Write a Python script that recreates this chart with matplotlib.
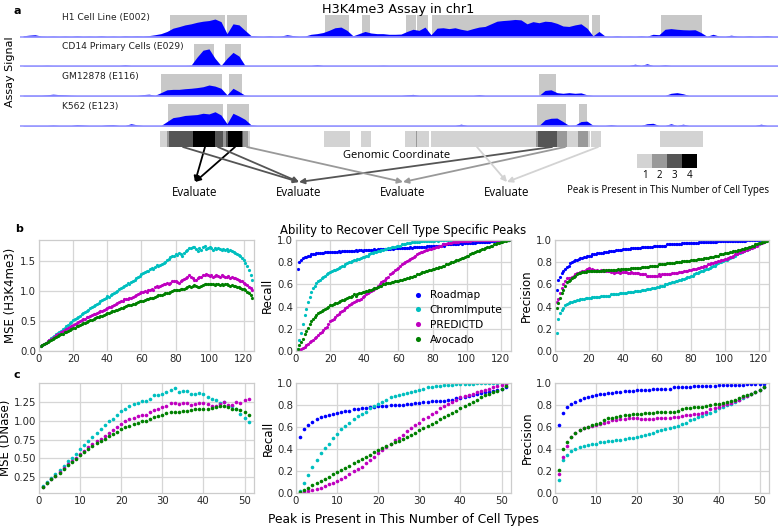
import numpy as np
import matplotlib
matplotlib.use('Agg')
import matplotlib.pyplot as plt
from matplotlib.patches import Rectangle, FancyArrowPatch

# ---------------- panel a data (genomic position = bin index * 6) ----------------
h1_signal = [0.05, 0.08, 0.10, 0.04, 0.03, 0.04, 0.03, 0.04, 0.03, 0.05,
             0.03, 0.04, 0.03, 0.05, 0.03, 0.04, 0.03, 0.05, 0.04, 0.05,
             0.04, 0.06, 0.10, 0.15, 0.25, 0.40, 0.47, 0.55, 0.60, 0.67,
             0.72, 0.75, 0.82, 0.70, 0.15, 0.60, 0.55, 0.30, 0.06, 0.04,
             0.03, 0.05, 0.03, 0.04, 0.10, 0.06, 0.03, 0.04, 0.12, 0.15,
             0.20, 0.30, 0.42, 0.45, 0.30, 0.05, 0.15, 0.25, 0.18, 0.15,
             0.15, 0.12, 0.12, 0.13, 0.25, 0.35, 0.30, 0.45, 0.10, 0.40,
             0.42, 0.38, 0.42, 0.35, 0.30, 0.38, 0.45, 0.48, 0.60, 0.72,
             0.75, 0.77, 0.80, 0.78, 0.60, 0.70, 0.65, 0.72, 0.70, 0.62,
             0.50, 0.48, 0.55, 0.60, 0.40, 0.05, 0.25, 0.04, 0.03, 0.05,
             0.03, 0.04, 0.03, 0.05, 0.03, 0.12, 0.10, 0.35, 0.38, 0.35,
             0.33, 0.32, 0.33, 0.20, 0.03, 0.12, 0.04, 0.03, 0.08, 0.04,
             0.03, 0.05, 0.03, 0.04, 0.06, 0.03, 0.03]
cd14_signal = [0.02, 0.02, 0.02, 0.02, 0.03, 0.02, 0.02, 0.02, 0.02, 0.02,
               0.02, 0.02, 0.02, 0.02, 0.02, 0.02, 0.02, 0.05, 0.02, 0.02,
               0.02, 0.02, 0.02, 0.02, 0.02, 0.02, 0.02, 0.02, 0.03, 0.40,
               0.72, 0.78, 0.35, 0.02, 0.35, 0.62, 0.45, 0.02, 0.02, 0.02,
               0.02, 0.02, 0.02, 0.02, 0.02, 0.02, 0.02, 0.02, 0.02, 0.06,
               0.02, 0.02, 0.02, 0.02, 0.02, 0.02, 0.02, 0.02, 0.02, 0.02,
               0.03, 0.02, 0.02, 0.02, 0.02, 0.02, 0.02, 0.02, 0.02, 0.02,
               0.02, 0.02, 0.02, 0.02, 0.02, 0.02, 0.02, 0.02, 0.02, 0.02,
               0.02, 0.02, 0.02, 0.02, 0.02, 0.02, 0.02, 0.02, 0.02, 0.02,
               0.02, 0.02, 0.02, 0.02, 0.02, 0.02, 0.02, 0.02, 0.02, 0.02,
               0.02, 0.02, 0.08, 0.02, 0.10, 0.02, 0.02, 0.05, 0.02, 0.02,
               0.02, 0.02, 0.02, 0.02, 0.02, 0.02, 0.02, 0.02, 0.02, 0.02,
               0.02, 0.02, 0.02, 0.02, 0.02, 0.02, 0.02]
gm_signal = [0.03, 0.03, 0.03, 0.03, 0.05, 0.08, 0.06, 0.05, 0.03, 0.02,
             0.02, 0.02, 0.02, 0.02, 0.02, 0.02, 0.02, 0.02, 0.02, 0.02,
             0.06, 0.08, 0.03, 0.15, 0.28, 0.30, 0.30, 0.33, 0.35, 0.38,
             0.42, 0.50, 0.45, 0.35, 0.05, 0.35, 0.20, 0.03, 0.02, 0.02,
             0.02, 0.02, 0.02, 0.02, 0.02, 0.02, 0.02, 0.02, 0.02, 0.02,
             0.02, 0.02, 0.02, 0.02, 0.02, 0.02, 0.02, 0.02, 0.02, 0.02,
             0.02, 0.02, 0.02, 0.02, 0.05, 0.07, 0.02, 0.02, 0.02, 0.02,
             0.02, 0.02, 0.02, 0.02, 0.02, 0.02, 0.06, 0.02, 0.02, 0.02,
             0.02, 0.02, 0.02, 0.02, 0.02, 0.02, 0.02, 0.25, 0.28, 0.15,
             0.12, 0.15, 0.12, 0.14, 0.05, 0.02, 0.02, 0.02, 0.02, 0.02,
             0.02, 0.02, 0.02, 0.02, 0.02, 0.02, 0.02, 0.02, 0.12, 0.15,
             0.10, 0.02, 0.02, 0.02, 0.02, 0.02, 0.02, 0.02, 0.02, 0.02,
             0.02, 0.02, 0.02, 0.02, 0.02, 0.02, 0.02]
k562_signal = [0.02, 0.02, 0.02, 0.02, 0.02, 0.04, 0.02, 0.02, 0.02, 0.06,
               0.04, 0.02, 0.02, 0.02, 0.05, 0.06, 0.02, 0.02, 0.10, 0.05,
               0.02, 0.02, 0.02, 0.02, 0.20, 0.38, 0.42, 0.48, 0.50, 0.52,
               0.58, 0.55, 0.65, 0.50, 0.10, 0.58, 0.45, 0.30, 0.05, 0.02,
               0.02, 0.02, 0.02, 0.02, 0.02, 0.02, 0.02, 0.02, 0.02, 0.02,
               0.02, 0.02, 0.02, 0.02, 0.02, 0.02, 0.02, 0.02, 0.02, 0.02,
               0.02, 0.02, 0.02, 0.02, 0.02, 0.02, 0.02, 0.02, 0.02, 0.02,
               0.02, 0.02, 0.02, 0.08, 0.02, 0.02, 0.02, 0.02, 0.02, 0.02,
               0.02, 0.02, 0.02, 0.02, 0.02, 0.02, 0.02, 0.28, 0.35, 0.36,
               0.20, 0.02, 0.04, 0.20, 0.22, 0.03, 0.02, 0.02, 0.06, 0.02,
               0.02, 0.02, 0.02, 0.02, 0.10, 0.12, 0.02, 0.02, 0.10, 0.02,
               0.08, 0.02, 0.02, 0.02, 0.02, 0.02, 0.02, 0.02, 0.02, 0.02,
               0.02, 0.02, 0.02, 0.08, 0.02, 0.02, 0.02]

h1_peaks = [(150, 205), (207, 227), (305, 329), (342, 350), (386, 396),
            (397, 408), (412, 569), (572, 580), (641, 682)]
cd14_peaks = [(174, 194), (205, 221)]
gm_peaks = [(141, 202), (209, 222), (519, 536)]
k562_peaks = [(148, 203), (207, 229), (517, 546), (559, 567)]

track_names = ["H1 Cell Line (E002)", "CD14 Primary Cells (E029)",
               "GM12878 (E116)", "K562 (E123)"]

# arrows: (number of cell types, genomic position of the source region)
arrow_sources = [(4, 185), (4, 215), (3, 163), (3, 198), (3, 532),
                 (2, 227), (2, 545), (1, 457), (1, 578)]

# ---------------- panel b data ----------------
b_mse_cyan = [0.08, 0.10, 0.12, 0.14, 0.16, 0.18, 0.21, 0.23, 0.25, 0.28,
              0.30, 0.32, 0.34, 0.37, 0.39, 0.41, 0.44, 0.46, 0.48, 0.51,
              0.53, 0.55, 0.57, 0.59, 0.61, 0.63, 0.65, 0.67, 0.69, 0.71,
              0.73, 0.75, 0.77, 0.79, 0.80, 0.83, 0.85, 0.87, 0.88, 0.92,
              0.90, 0.93, 0.95, 0.97, 0.98, 1.00, 1.03, 1.05, 1.07, 1.09,
              1.10, 1.13, 1.12, 1.15, 1.17, 1.18, 1.22, 1.23, 1.25, 1.29,
              1.30, 1.31, 1.33, 1.34, 1.36, 1.38, 1.37, 1.40, 1.43, 1.41,
              1.44, 1.45, 1.47, 1.49, 1.51, 1.54, 1.56, 1.58, 1.59, 1.61,
              1.60, 1.63, 1.62, 1.58, 1.64, 1.66, 1.68, 1.72, 1.71, 1.74,
              1.73, 1.70, 1.67, 1.72, 1.68, 1.74, 1.75, 1.70, 1.72, 1.74,
              1.71, 1.69, 1.71, 1.70, 1.72, 1.70, 1.68, 1.70, 1.69, 1.70,
              1.67, 1.68, 1.66, 1.65, 1.64, 1.62, 1.60, 1.58, 1.55, 1.51,
              1.47, 1.42, 1.35, 1.27, 1.18]
b_mse_magenta = [0.08, 0.10, 0.12, 0.14, 0.16, 0.18, 0.20, 0.22, 0.24, 0.26,
                 0.28, 0.29, 0.31, 0.33, 0.35, 0.36, 0.38, 0.40, 0.42, 0.43,
                 0.45, 0.46, 0.48, 0.50, 0.51, 0.53, 0.54, 0.56, 0.57, 0.58,
                 0.60, 0.61, 0.62, 0.64, 0.65, 0.66, 0.67, 0.69, 0.70, 0.72,
                 0.73, 0.74, 0.75, 0.77, 0.78, 0.80, 0.82, 0.83, 0.84, 0.86,
                 0.87, 0.87, 0.88, 0.89, 0.90, 0.92, 0.93, 0.95, 0.96, 0.98,
                 0.99, 1.00, 0.98, 1.01, 1.02, 1.03, 1.02, 1.06, 1.08, 1.07,
                 1.09, 1.10, 1.11, 1.12, 1.13, 1.12, 1.14, 1.16, 1.17, 1.16,
                 1.15, 1.14, 1.17, 1.19, 1.20, 1.22, 1.24, 1.26, 1.24, 1.21,
                 1.19, 1.18, 1.21, 1.23, 1.24, 1.26, 1.27, 1.28, 1.26, 1.25,
                 1.26, 1.24, 1.25, 1.26, 1.25, 1.24, 1.26, 1.25, 1.23, 1.24,
                 1.25, 1.22, 1.23, 1.21, 1.22, 1.20, 1.19, 1.17, 1.16, 1.14,
                 1.12, 1.10, 1.07, 1.05, 1.02]
b_mse_green = [0.08, 0.10, 0.12, 0.13, 0.15, 0.17, 0.18, 0.20, 0.22, 0.23,
               0.25, 0.26, 0.28, 0.29, 0.31, 0.32, 0.34, 0.35, 0.37, 0.38,
               0.39, 0.41, 0.42, 0.43, 0.45, 0.46, 0.47, 0.48, 0.50, 0.51,
               0.52, 0.53, 0.55, 0.56, 0.57, 0.58, 0.59, 0.60, 0.62, 0.63,
               0.64, 0.65, 0.66, 0.67, 0.68, 0.69, 0.70, 0.71, 0.72, 0.74,
               0.75, 0.76, 0.77, 0.77, 0.78, 0.79, 0.80, 0.82, 0.83, 0.84,
               0.84, 0.85, 0.86, 0.87, 0.88, 0.88, 0.89, 0.90, 0.92, 0.93,
               0.93, 0.94, 0.95, 0.96, 0.97, 0.97, 0.98, 1.00, 1.01, 1.02,
               1.02, 1.01, 1.03, 1.04, 1.03, 1.05, 1.06, 1.08, 1.07, 1.09,
               1.10, 1.08, 1.06, 1.07, 1.09, 1.10, 1.11, 1.12, 1.11, 1.12,
               1.11, 1.12, 1.10, 1.11, 1.12, 1.10, 1.11, 1.10, 1.12, 1.11,
               1.10, 1.09, 1.10, 1.08, 1.09, 1.07, 1.06, 1.05, 1.04, 1.03,
               1.01, 0.99, 0.96, 0.93, 0.88]

b_rec_blue = [0.74, 0.80, 0.82, 0.84, 0.85, 0.85, 0.86, 0.86, 0.87, 0.87,
              0.87, 0.88, 0.88, 0.88, 0.88, 0.88, 0.89, 0.89, 0.89, 0.89,
              0.89, 0.89, 0.89, 0.89, 0.90, 0.89, 0.90, 0.90, 0.90, 0.90,
              0.90, 0.90, 0.90, 0.90, 0.91, 0.90, 0.91, 0.91, 0.90, 0.91,
              0.91, 0.91, 0.91, 0.91, 0.91, 0.92, 0.91, 0.92, 0.92, 0.92,
              0.92, 0.92, 0.92, 0.92, 0.92, 0.93, 0.92, 0.93, 0.93, 0.93,
              0.93, 0.93, 0.93, 0.93, 0.93, 0.93, 0.94, 0.93, 0.94, 0.94,
              0.94, 0.94, 0.94, 0.94, 0.94, 0.94, 0.95, 0.95, 0.95, 0.95,
              0.95, 0.95, 0.95, 0.95, 0.95, 0.96, 0.95, 0.96, 0.96, 0.96,
              0.96, 0.96, 0.96, 0.96, 0.96, 0.97, 0.96, 0.97, 0.97, 0.97,
              0.97, 0.97, 0.97, 0.97, 0.97, 0.98, 0.98, 0.98, 0.98, 0.98,
              0.98, 0.98, 0.98, 0.99, 0.99, 0.99, 0.99, 0.99, 0.99, 0.99,
              0.99, 1.00, 1.00, 1.00, 1.00]
b_rec_cyan = [0.02, 0.10, 0.16, 0.24, 0.32, 0.38, 0.44, 0.49, 0.53, 0.57,
              0.59, 0.61, 0.63, 0.64, 0.66, 0.67, 0.68, 0.69, 0.70, 0.71,
              0.72, 0.73, 0.73, 0.74, 0.75, 0.76, 0.77, 0.77, 0.78, 0.79,
              0.80, 0.80, 0.81, 0.82, 0.82, 0.83, 0.83, 0.84, 0.85, 0.85,
              0.86, 0.86, 0.87, 0.88, 0.88, 0.89, 0.89, 0.90, 0.90, 0.91,
              0.91, 0.92, 0.92, 0.93, 0.93, 0.94, 0.94, 0.94, 0.95, 0.95,
              0.95, 0.96, 0.96, 0.96, 0.97, 0.97, 0.97, 0.98, 0.98, 0.98,
              0.98, 0.98, 0.99, 0.99, 0.99, 0.99, 0.99, 0.99, 0.99, 0.99,
              0.99, 1.00, 0.99, 1.00, 1.00, 1.00, 1.00, 1.00, 1.00, 1.00,
              1.00, 1.00, 1.00, 1.00, 1.00, 1.00, 1.00, 1.00, 1.00, 1.00,
              1.00, 1.00, 1.00, 1.00, 1.00, 1.00, 1.00, 1.00, 1.00, 1.00,
              1.00, 1.00, 1.00, 1.00, 1.00, 1.00, 1.00, 1.00, 1.00, 1.00,
              1.00, 1.00, 1.00, 1.00, 1.00]
b_rec_magenta = [0.00, 0.01, 0.02, 0.03, 0.04, 0.05, 0.06, 0.08, 0.09, 0.10,
                 0.12, 0.13, 0.14, 0.16, 0.17, 0.19, 0.21, 0.22, 0.24, 0.27,
                 0.28, 0.29, 0.31, 0.32, 0.33, 0.35, 0.36, 0.37, 0.39, 0.40,
                 0.41, 0.42, 0.43, 0.44, 0.45, 0.46, 0.46, 0.47, 0.49, 0.50,
                 0.51, 0.52, 0.53, 0.54, 0.55, 0.56, 0.57, 0.59, 0.60, 0.62,
                 0.63, 0.64, 0.66, 0.67, 0.69, 0.70, 0.71, 0.73, 0.74, 0.75,
                 0.77, 0.78, 0.79, 0.80, 0.81, 0.82, 0.83, 0.84, 0.85, 0.86,
                 0.87, 0.88, 0.89, 0.89, 0.90, 0.91, 0.91, 0.92, 0.92, 0.93,
                 0.93, 0.94, 0.94, 0.95, 0.95, 0.96, 0.96, 0.96, 0.97, 0.97,
                 0.97, 0.98, 0.98, 0.98, 0.98, 0.99, 0.99, 0.99, 0.99, 0.99,
                 0.99, 0.99, 1.00, 1.00, 1.00, 1.00, 1.00, 1.00, 1.00, 1.00,
                 1.00, 1.00, 1.00, 1.00, 1.00, 1.00, 1.00, 1.00, 1.00, 1.00,
                 1.00, 1.00, 1.00, 1.00, 1.00]
b_rec_green = [0.02, 0.05, 0.08, 0.11, 0.15, 0.18, 0.21, 0.24, 0.27, 0.29,
               0.31, 0.32, 0.34, 0.35, 0.36, 0.37, 0.38, 0.39, 0.40, 0.41,
               0.41, 0.42, 0.43, 0.43, 0.44, 0.45, 0.46, 0.46, 0.47, 0.48,
               0.49, 0.49, 0.50, 0.51, 0.50, 0.51, 0.52, 0.52, 0.53, 0.53,
               0.54, 0.54, 0.55, 0.55, 0.56, 0.57, 0.57, 0.58, 0.59, 0.59,
               0.60, 0.60, 0.61, 0.61, 0.61, 0.62, 0.62, 0.63, 0.63, 0.63,
               0.64, 0.64, 0.65, 0.65, 0.66, 0.66, 0.67, 0.67, 0.68, 0.68,
               0.69, 0.69, 0.70, 0.71, 0.71, 0.72, 0.72, 0.73, 0.73, 0.74,
               0.74, 0.75, 0.75, 0.76, 0.76, 0.77, 0.77, 0.78, 0.78, 0.79,
               0.80, 0.80, 0.81, 0.82, 0.82, 0.83, 0.84, 0.84, 0.85, 0.86,
               0.86, 0.87, 0.88, 0.88, 0.89, 0.90, 0.90, 0.91, 0.92, 0.92,
               0.93, 0.94, 0.94, 0.95, 0.95, 0.96, 0.96, 0.97, 0.97, 0.98,
               0.98, 0.99, 0.99, 1.00, 1.00]

b_prec_blue = [0.55, 0.64, 0.67, 0.70, 0.72, 0.74, 0.76, 0.77, 0.79, 0.80,
               0.81, 0.82, 0.82, 0.83, 0.84, 0.84, 0.85, 0.85, 0.86, 0.86,
               0.86, 0.87, 0.87, 0.87, 0.88, 0.88, 0.88, 0.88, 0.89, 0.89,
               0.89, 0.90, 0.90, 0.90, 0.90, 0.91, 0.91, 0.91, 0.91, 0.92,
               0.92, 0.92, 0.92, 0.92, 0.93, 0.93, 0.93, 0.93, 0.93, 0.93,
               0.94, 0.94, 0.94, 0.94, 0.94, 0.94, 0.94, 0.95, 0.95, 0.95,
               0.95, 0.95, 0.95, 0.95, 0.95, 0.96, 0.96, 0.96, 0.96, 0.96,
               0.96, 0.96, 0.96, 0.96, 0.97, 0.97, 0.97, 0.97, 0.97, 0.97,
               0.97, 0.97, 0.97, 0.97, 0.98, 0.98, 0.98, 0.98, 0.98, 0.98,
               0.98, 0.98, 0.98, 0.98, 0.98, 0.99, 0.99, 0.99, 0.99, 0.99,
               0.99, 0.99, 0.99, 0.99, 0.99, 0.99, 0.99, 0.99, 0.99, 0.99,
               0.99, 0.99, 1.00, 1.00, 1.00, 1.00, 1.00, 1.00, 1.00, 1.00,
               1.00, 1.00, 1.00, 1.00, 1.00]
b_prec_cyan = [0.16, 0.29, 0.34, 0.37, 0.39, 0.41, 0.42, 0.43, 0.44, 0.44,
               0.45, 0.45, 0.46, 0.46, 0.47, 0.47, 0.47, 0.48, 0.48, 0.48,
               0.48, 0.49, 0.49, 0.49, 0.49, 0.49, 0.50, 0.50, 0.50, 0.50,
               0.50, 0.50, 0.51, 0.51, 0.51, 0.51, 0.51, 0.52, 0.52, 0.52,
               0.52, 0.52, 0.53, 0.53, 0.53, 0.53, 0.54, 0.54, 0.54, 0.54,
               0.55, 0.55, 0.55, 0.56, 0.56, 0.56, 0.57, 0.57, 0.57, 0.58,
               0.58, 0.59, 0.59, 0.59, 0.60, 0.60, 0.61, 0.61, 0.62, 0.62,
               0.63, 0.63, 0.64, 0.64, 0.65, 0.65, 0.66, 0.67, 0.67, 0.68,
               0.68, 0.69, 0.70, 0.70, 0.71, 0.72, 0.72, 0.73, 0.74, 0.74,
               0.75, 0.76, 0.77, 0.77, 0.78, 0.79, 0.80, 0.80, 0.81, 0.82,
               0.82, 0.83, 0.84, 0.85, 0.85, 0.86, 0.87, 0.88, 0.88, 0.89,
               0.90, 0.91, 0.91, 0.92, 0.93, 0.94, 0.94, 0.95, 0.96, 0.96,
               0.97, 0.98, 0.98, 0.99, 1.00]
b_prec_magenta = [0.44, 0.47, 0.52, 0.57, 0.60, 0.63, 0.66, 0.66, 0.66, 0.67,
                  0.68, 0.69, 0.70, 0.70, 0.71, 0.72, 0.72, 0.73, 0.74, 0.75,
                  0.73, 0.74, 0.73, 0.72, 0.73, 0.72, 0.73, 0.72, 0.73, 0.72,
                  0.72, 0.72, 0.71, 0.71, 0.70, 0.71, 0.71, 0.70, 0.71, 0.71,
                  0.71, 0.71, 0.70, 0.70, 0.71, 0.70, 0.70, 0.70, 0.70, 0.69,
                  0.69, 0.69, 0.69, 0.68, 0.68, 0.68, 0.68, 0.68, 0.68, 0.68,
                  0.69, 0.68, 0.69, 0.69, 0.69, 0.69, 0.69, 0.69, 0.70, 0.70,
                  0.70, 0.70, 0.71, 0.71, 0.71, 0.72, 0.72, 0.72, 0.73, 0.73,
                  0.74, 0.74, 0.74, 0.75, 0.75, 0.76, 0.76, 0.77, 0.77, 0.78,
                  0.78, 0.79, 0.79, 0.80, 0.80, 0.81, 0.81, 0.82, 0.82, 0.83,
                  0.83, 0.84, 0.85, 0.85, 0.86, 0.87, 0.87, 0.88, 0.89, 0.89,
                  0.90, 0.91, 0.91, 0.92, 0.93, 0.93, 0.94, 0.95, 0.95, 0.96,
                  0.97, 0.97, 0.98, 0.99, 1.00]
b_prec_green = [0.39, 0.43, 0.48, 0.52, 0.55, 0.59, 0.62, 0.63, 0.64, 0.66,
                0.67, 0.68, 0.69, 0.70, 0.70, 0.71, 0.71, 0.71, 0.72, 0.72,
                0.72, 0.72, 0.72, 0.72, 0.72, 0.72, 0.72, 0.73, 0.72, 0.73,
                0.73, 0.73, 0.73, 0.73, 0.73, 0.73, 0.74, 0.73, 0.74, 0.74,
                0.74, 0.74, 0.74, 0.74, 0.75, 0.75, 0.75, 0.75, 0.75, 0.75,
                0.76, 0.76, 0.76, 0.76, 0.76, 0.77, 0.77, 0.77, 0.77, 0.77,
                0.78, 0.78, 0.78, 0.78, 0.78, 0.79, 0.79, 0.79, 0.79, 0.79,
                0.80, 0.80, 0.80, 0.80, 0.81, 0.81, 0.81, 0.81, 0.81, 0.82,
                0.82, 0.82, 0.82, 0.83, 0.83, 0.83, 0.83, 0.84, 0.84, 0.84,
                0.85, 0.85, 0.85, 0.86, 0.86, 0.86, 0.87, 0.87, 0.87, 0.88,
                0.88, 0.88, 0.89, 0.89, 0.90, 0.90, 0.90, 0.91, 0.91, 0.92,
                0.92, 0.93, 0.93, 0.94, 0.94, 0.95, 0.95, 0.96, 0.96, 0.97,
                0.97, 0.98, 0.98, 0.99, 0.99]

# ---------------- panel c data ----------------
c_mse_cyan = [0.13, 0.18, 0.24, 0.29, 0.35, 0.40, 0.46, 0.50, 0.56, 0.62,
              0.68, 0.73, 0.78, 0.83, 0.89, 0.94, 0.99, 1.02, 1.07, 1.13,
              1.16, 1.19, 1.22, 1.24, 1.26, 1.26, 1.29, 1.34, 1.34, 1.36,
              1.38, 1.41, 1.43, 1.38, 1.40, 1.39, 1.36, 1.35, 1.37, 1.35,
              1.32, 1.29, 1.27, 1.24, 1.25, 1.20, 1.19, 1.16, 1.09, 1.03,
              0.98]
c_mse_magenta = [0.12, 0.17, 0.22, 0.27, 0.32, 0.37, 0.42, 0.46, 0.50, 0.56,
                 0.60, 0.65, 0.69, 0.73, 0.76, 0.80, 0.84, 0.88, 0.91, 0.96,
                 0.99, 1.02, 1.04, 1.06, 1.08, 1.08, 1.11, 1.14, 1.16, 1.18,
                 1.20, 1.24, 1.24, 1.22, 1.23, 1.23, 1.21, 1.22, 1.24, 1.23,
                 1.22, 1.19, 1.20, 1.22, 1.25, 1.21, 1.21, 1.25, 1.23, 1.28,
                 1.29]
c_mse_green = [0.12, 0.17, 0.22, 0.26, 0.31, 0.36, 0.41, 0.45, 0.49, 0.54,
               0.58, 0.62, 0.66, 0.70, 0.73, 0.76, 0.79, 0.82, 0.85, 0.89,
               0.91, 0.93, 0.95, 0.97, 0.99, 1.00, 1.02, 1.05, 1.06, 1.08,
               1.10, 1.12, 1.12, 1.12, 1.13, 1.13, 1.14, 1.15, 1.16, 1.16,
               1.16, 1.17, 1.18, 1.19, 1.19, 1.18, 1.16, 1.15, 1.14, 1.11,
               1.07]

c_rec_blue = [0.51, 0.58, 0.62, 0.65, 0.67, 0.69, 0.70, 0.71, 0.72, 0.73,
              0.74, 0.75, 0.75, 0.76, 0.76, 0.77, 0.77, 0.78, 0.78, 0.79,
              0.79, 0.79, 0.80, 0.80, 0.80, 0.80, 0.81, 0.81, 0.82, 0.82,
              0.83, 0.83, 0.84, 0.84, 0.84, 0.84, 0.85, 0.85, 0.86, 0.86,
              0.87, 0.88, 0.89, 0.90, 0.91, 0.92, 0.92, 0.93, 0.94, 0.95,
              0.96]
c_rec_cyan = [0.02, 0.09, 0.16, 0.24, 0.30, 0.36, 0.41, 0.45, 0.50, 0.54,
              0.58, 0.61, 0.64, 0.67, 0.70, 0.72, 0.74, 0.77, 0.79, 0.81,
              0.83, 0.85, 0.87, 0.88, 0.89, 0.90, 0.91, 0.92, 0.93, 0.94,
              0.95, 0.96, 0.96, 0.97, 0.97, 0.98, 0.98, 0.98, 0.99, 0.99,
              0.99, 0.99, 0.99, 1.00, 1.00, 1.00, 1.00, 1.00, 1.00, 1.00,
              1.00]
c_rec_magenta = [0.00, 0.01, 0.02, 0.03, 0.04, 0.05, 0.06, 0.08, 0.09, 0.11,
                 0.13, 0.15, 0.17, 0.20, 0.22, 0.24, 0.27, 0.30, 0.33, 0.36,
                 0.39, 0.42, 0.45, 0.48, 0.50, 0.53, 0.56, 0.59, 0.62, 0.64,
                 0.67, 0.69, 0.72, 0.74, 0.77, 0.79, 0.81, 0.83, 0.85, 0.87,
                 0.88, 0.89, 0.90, 0.92, 0.93, 0.94, 0.95, 0.96, 0.97, 0.98,
                 0.99]
c_rec_green = [0.01, 0.03, 0.05, 0.07, 0.09, 0.11, 0.13, 0.15, 0.17, 0.19,
               0.21, 0.23, 0.25, 0.27, 0.29, 0.31, 0.33, 0.35, 0.37, 0.39,
               0.41, 0.43, 0.45, 0.46, 0.47, 0.49, 0.51, 0.53, 0.55, 0.57,
               0.59, 0.61, 0.63, 0.65, 0.67, 0.69, 0.71, 0.73, 0.75, 0.77,
               0.79, 0.81, 0.83, 0.85, 0.87, 0.89, 0.90, 0.92, 0.93, 0.95,
               0.97]

c_prec_blue = [0.62, 0.73, 0.78, 0.81, 0.83, 0.85, 0.86, 0.87, 0.88, 0.89,
               0.90, 0.90, 0.91, 0.91, 0.92, 0.92, 0.93, 0.93, 0.93, 0.94,
               0.94, 0.94, 0.94, 0.95, 0.95, 0.95, 0.95, 0.95, 0.96, 0.96,
               0.96, 0.96, 0.96, 0.97, 0.97, 0.97, 0.97, 0.97, 0.97, 0.98,
               0.98, 0.98, 0.98, 0.98, 0.98, 0.98, 0.99, 0.99, 0.99, 0.99,
               0.99]
c_prec_cyan = [0.12, 0.30, 0.35, 0.38, 0.40, 0.42, 0.43, 0.44, 0.45, 0.45,
               0.46, 0.46, 0.47, 0.47, 0.48, 0.48, 0.49, 0.50, 0.50, 0.51,
               0.52, 0.53, 0.54, 0.55, 0.56, 0.57, 0.58, 0.59, 0.60, 0.61,
               0.63, 0.64, 0.66, 0.67, 0.69, 0.70, 0.72, 0.73, 0.75, 0.77,
               0.78, 0.80, 0.81, 0.83, 0.85, 0.86, 0.88, 0.90, 0.92, 0.94,
               0.96]
c_prec_magenta = [0.17, 0.33, 0.43, 0.51, 0.55, 0.57, 0.59, 0.60, 0.61, 0.62,
                  0.63, 0.64, 0.65, 0.66, 0.66, 0.67, 0.67, 0.68, 0.68, 0.68,
                  0.67, 0.67, 0.67, 0.67, 0.68, 0.68, 0.68, 0.68, 0.69, 0.69,
                  0.70, 0.71, 0.71, 0.72, 0.72, 0.73, 0.74, 0.76, 0.77, 0.78,
                  0.80, 0.81, 0.82, 0.84, 0.85, 0.87, 0.88, 0.90, 0.92, 0.94,
                  0.96]
c_prec_green = [0.21, 0.40, 0.46, 0.51, 0.55, 0.57, 0.59, 0.60, 0.62, 0.63,
                0.64, 0.66, 0.68, 0.68, 0.69, 0.70, 0.71, 0.71, 0.72, 0.72,
                0.72, 0.73, 0.73, 0.73, 0.74, 0.74, 0.74, 0.74, 0.74, 0.75,
                0.76, 0.77, 0.77, 0.78, 0.78, 0.78, 0.79, 0.80, 0.81, 0.81,
                0.82, 0.83, 0.84, 0.85, 0.86, 0.88, 0.89, 0.90, 0.92, 0.94,
                0.96]

methods = ["Roadmap", "ChromImpute", "PREDICTD", "Avocado"]
method_colors = {"Roadmap": "b", "ChromImpute": "c", "PREDICTD": "m", "Avocado": "g"}
count_colors = {1: "#d3d3d3", 2: "#999999", 3: "#555555", 4: "#000000"}

# ---------------- figure ----------------
W, H = 778, 526
plt.rcParams['font.family'] = 'DejaVu Sans'
plt.rcParams['font.size'] = 8
fig = plt.figure(figsize=(W / 100, H / 100), dpi=100)


def box(l, t, r, b):
    # pixel box -> figure fraction
    return [l / W, 1 - b / H, (r - l) / W, (b - t) / H]


# ---- panel a: signal tracks ----
bin_pos = np.arange(len(h1_signal)) * 6 + 3
signals = [h1_signal, cd14_signal, gm_signal, k562_signal]
peaks = [h1_peaks, cd14_peaks, gm_peaks, k562_peaks]
baselines = [37, 66, 96, 126]
for name, sig, pk, base in zip(track_names, signals, peaks, baselines):
    ax = fig.add_axes(box(20, base - 23, 778, base + 1))
    ax.set_xlim(0, 758)
    ax.set_ylim(-0.05, 1.05)
    for s, e in pk:
        ax.add_patch(Rectangle((s, 0), e - s, 1.0, color='#c8c8c8', lw=0))
    ax.fill_between(bin_pos, 0, sig, color='#0000ff', lw=0)
    ax.axhline(0, color='#9a9aff', lw=1.2)
    ax.text(42, 0.88, name, fontsize=6.6, va='center', ha='left', color='#222222')
    ax.axis('off')

fig.text(10 / W, 1 - 72 / H, "Assay Signal", rotation=90, ha='center', va='center', fontsize=8)
fig.text(398 / W, 1 - 10 / H, "H3K4me3 Assay in chr1", ha='center', va='center', fontsize=9.2)
fig.text(17 / W, 1 - 11 / H, "a", ha='center', va='center', fontsize=8, fontweight='bold')

# ---- panel a: peak overlap ribbon, arrows, legend ----
axr = fig.add_axes(box(20, 128, 778, 200))
axr.set_xlim(0, 758)
axr.set_ylim(200, 128)
axr.axis('off')
cover = np.zeros(760, dtype=int)
for pk in peaks:
    for s, e in pk:
        cover[s - 1:e + 1] += 1
start = 0
for i in range(1, len(cover) + 1):
    if i == len(cover) or cover[i] != cover[start]:
        if cover[start] > 0:
            axr.add_patch(Rectangle((start, 131), i - start, 16,
                                    color=count_colors[min(cover[start], 4)], lw=0))
        start = i

eval_x = {4: 175, 3: 279, 2: 383, 1: 487}
for k, xs in arrow_sources:
    arr = FancyArrowPatch((xs, 147), (eval_x[k], 182), arrowstyle='-|>',
                          mutation_scale=8, lw=1.3, color=count_colors[k],
                          shrinkA=0, shrinkB=0)
    axr.add_patch(arr)
for k, xe in eval_x.items():
    axr.text(xe, 192, "Evaluate", ha='center', va='center', fontsize=8.3, family='Open Sans')
axr.text(377, 156, "Genomic Coordinate", ha='center', va='center', fontsize=8, family='Open Sans')
for k in range(1, 5):
    x0 = 617 + (k - 1) * 15
    axr.add_patch(Rectangle((x0, 154), 15, 14, color=count_colors[k], lw=0))
    axr.text(x0 + 7.5, 176, str(k), ha='center', va='center', fontsize=7, family='Open Sans')
axr.text(648, 190, "Peak is Present in This Number of Cell Types", ha='center', va='center',
         fontsize=7, family='Open Sans')


# ---- panels b and c ----
def style(ax):
    ax.set_facecolor('white')
    ax.grid(True, color='#d6d6d6', lw=0.9)
    ax.set_axisbelow(True)
    for sp in ax.spines.values():
        sp.set_color('#cccccc')
        sp.set_linewidth(0.9)
    ax.tick_params(length=0, pad=2, labelsize=7.3, colors='#262626')


x_b = np.arange(1, len(b_mse_cyan) + 1)
x_c = np.arange(1, len(c_mse_cyan) + 1)
left_cols = [(39, 254), (296, 511), (555, 769)]

b_data = [
    {"ChromImpute": b_mse_cyan, "PREDICTD": b_mse_magenta, "Avocado": b_mse_green},
    {"Roadmap": b_rec_blue, "ChromImpute": b_rec_cyan, "PREDICTD": b_rec_magenta, "Avocado": b_rec_green},
    {"Roadmap": b_prec_blue, "ChromImpute": b_prec_cyan, "PREDICTD": b_prec_magenta, "Avocado": b_prec_green},
]
c_data = [
    {"ChromImpute": c_mse_cyan, "PREDICTD": c_mse_magenta, "Avocado": c_mse_green},
    {"Roadmap": c_rec_blue, "ChromImpute": c_rec_cyan, "PREDICTD": c_rec_magenta, "Avocado": c_rec_green},
    {"Roadmap": c_prec_blue, "ChromImpute": c_prec_cyan, "PREDICTD": c_prec_magenta, "Avocado": c_prec_green},
]
ylabels_b = ["MSE (H3K4me3)", "Recall", "Precision"]
ylabels_c = ["MSE (DNase)", "Recall", "Precision"]

for j, (l, r) in enumerate(left_cols):
    ax = fig.add_axes(box(l, 240, r, 351))
    style(ax)
    for m in methods:
        if m in b_data[j]:
            ax.plot(x_b, b_data[j][m], 'o', color=method_colors[m], ms=2.3, mew=0, label=m)
    ax.set_xlim(0, 126)
    ax.set_xticks(range(0, 121, 20))
    if j == 0:
        ax.set_ylim(0, 1.85)
        ax.set_yticks([0, 0.5, 1.0, 1.5])
    else:
        ax.set_ylim(0, 1.0)
        ax.set_yticks(np.arange(0, 1.01, 0.2))
    ax.yaxis.set_major_formatter(plt.FormatStrFormatter('%.1f'))
    ax.set_ylabel(ylabels_b[j], fontsize=8.5, labelpad=2)
    if j == 1:
        ax.set_title("Ability to Recover Cell Type Specific Peaks", fontsize=8.4, pad=4)
        ax.legend(loc='lower right', frameon=False, fontsize=7.6, markerscale=1.6,
                  handletextpad=0.5, labelspacing=0.45, borderaxespad=0.2,
                  handlelength=1.2, bbox_to_anchor=(0.99, 0.0))

for j, (l, r) in enumerate(left_cols):
    ax = fig.add_axes(box(l, 383, r, 493))
    style(ax)
    for m in methods:
        if m in c_data[j]:
            ax.plot(x_c, c_data[j][m], 'o', color=method_colors[m], ms=2.6, mew=0)
    ax.set_xlim(0, 52.3)
    ax.set_xticks(range(0, 51, 10))
    if j == 0:
        ax.set_ylim(0.04, 1.5)
        ax.set_yticks([0.25, 0.5, 0.75, 1.0, 1.25])
        ax.yaxis.set_major_formatter(plt.FormatStrFormatter('%.2f'))
    else:
        ax.set_ylim(0, 1.0)
        ax.set_yticks(np.arange(0, 1.01, 0.2))
        ax.yaxis.set_major_formatter(plt.FormatStrFormatter('%.1f'))
    ax.set_ylabel(ylabels_c[j], fontsize=8.5, labelpad=1.5)
    if j == 1:
        ax.set_xlabel("Peak is Present in This Number of Cell Types", fontsize=8.8, labelpad=5)

fig.text(19 / W, 1 - 229 / H, "b", ha='center', va='center', fontsize=8, fontweight='bold')
fig.text(17 / W, 1 - 375 / H, "c", ha='center', va='center', fontsize=8, fontweight='bold')

fig.savefig('out.png', dpi=100)
